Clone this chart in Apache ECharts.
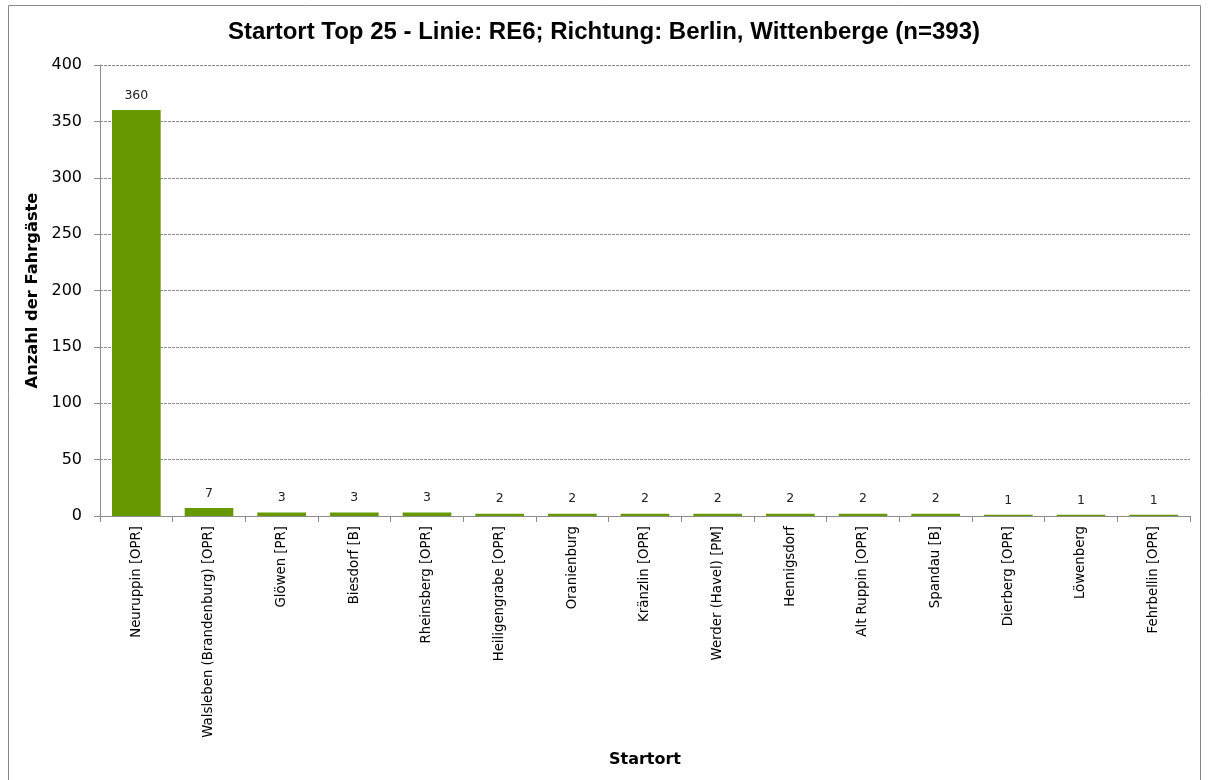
<!DOCTYPE html>
<html><head><meta charset="utf-8">
<script src="https://cdn.jsdelivr.net/npm/echarts@6/dist/echarts.min.js"></script>
<style>html,body{margin:0;padding:0;background:#fff}#c{width:1208px;height:780px}</style>
</head><body><div id="c"></div>
<script>
const titleText = 'Startort Top 25 - Linie: RE6; Richtung: Berlin, Wittenberge (n=393)';
const categories = ['Neuruppin [OPR]','Walsleben (Brandenburg) [OPR]','Glöwen [PR]','Biesdorf [B]','Rheinsberg [OPR]','Heiligengrabe [OPR]','Oranienburg','Kränzlin [OPR]','Werder (Havel) [PM]','Hennigsdorf','Alt Ruppin [OPR]','Spandau [B]','Dierberg [OPR]','Löwenberg','Fehrbellin [OPR]'];
const values = [360,7,3,3,3,2,2,2,2,2,2,2,1,1,1];
const yTicks = [0,50,100,150,200,250,300,350,400];
const yName = 'Anzahl der Fahrgäste';
const xName = 'Startort';

const chart = echarts.init(document.getElementById('c'), null, {renderer:'canvas'});
const font = 'Tahoma, "DejaVu Sans", "Liberation Sans", sans-serif';
chart.setOption({
  animation:false,
  backgroundColor:'#fff',
  title:{text:titleText,left:'center',top:15,textStyle:{fontFamily:'"Liberation Sans", Arial, sans-serif',fontWeight:'bold',fontSize:24,color:'#000'}},
  graphic:[{type:'rect',shape:{x:8.5,y:5.5,width:1192,height:790},style:{fill:null,stroke:'#888',lineWidth:1},silent:true,z:-1}],
  grid:{left:100,right:18,top:65,bottom:264,containLabel:false},
  xAxis:{type:'category',data:categories,
    name:xName,nameLocation:'middle',nameGap:236,
    nameTextStyle:{fontFamily:font,fontWeight:'bold',fontSize:16,color:'#000'},
    axisLine:{lineStyle:{color:'#8c8c8c'}},
    axisTick:{show:true,alignWithLabel:false,length:6,lineStyle:{color:'#8c8c8c'}},
    axisLabel:{rotate:90,interval:0,margin:10,fontFamily:font,fontSize:13.3,color:'#000'}
  },
  yAxis:{type:'value',min:0,max:400,interval:50,
    name:yName,nameLocation:'middle',nameGap:54,nameRotate:90,
    nameTextStyle:{fontFamily:font,fontWeight:'bold',fontSize:16.3,color:'#000'},
    axisLine:{show:true,lineStyle:{color:'#8c8c8c'}},
    axisTick:{show:true,length:6,lineStyle:{color:'#8c8c8c'}},
    axisLabel:{margin:18,fontFamily:font,fontSize:16,color:'#000',
      formatter:function(v){return yTicks.indexOf(v)>=0?String(v):'';}},
    splitLine:{show:true,lineStyle:{color:'#8c8c8c',type:[3,1],width:1}}
  },
  series:[{type:'bar',data:values,barCategoryGap:'33%',
    itemStyle:{color:'#669900'},
    label:{show:true,position:'top',distance:8,fontFamily:font,fontSize:12.5,color:'#222'}
  }]
});
</script></body></html>
